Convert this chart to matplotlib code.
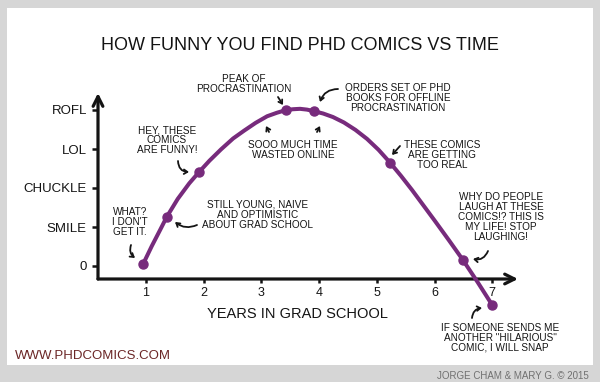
import matplotlib
matplotlib.use("Agg")
import matplotlib.pyplot as plt
from matplotlib.patches import Rectangle, FancyArrowPatch

# ---------------- data ----------------
title = "HOW FUNNY YOU FIND PHD COMICS VS TIME"
x_label = "YEARS IN GRAD SCHOOL"
x_ticks = [1, 2, 3, 4, 5, 6, 7]
y_ticks = [0, 1, 2, 3, 4]
y_tick_labels = ["0", "SMILE", "CHUCKLE", "LOL", "ROFL"]

curve_years = [0.95, 1.10, 1.25, 1.36, 1.55, 1.75, 1.92, 2.10, 2.30, 2.51, 2.70,
               2.90, 3.10, 3.27, 3.43, 3.55, 3.67, 3.79, 3.91, 4.07, 4.24, 4.43,
               4.63, 4.83, 5.03, 5.23, 5.42, 5.61, 5.80, 6.00, 6.25, 6.49, 6.75, 7.00]
curve_funny = [0.05, 0.51, 0.94, 1.26, 1.72, 2.12, 2.41, 2.70, 2.99, 3.27, 3.47,
               3.67, 3.84, 3.93, 4.00, 4.02, 4.03, 4.01, 3.97, 3.91, 3.82, 3.68,
               3.49, 3.26, 2.98, 2.65, 2.31, 1.95, 1.57, 1.17, 0.66, 0.16, -0.42, -1.00]

dot_years = [0.95, 1.36, 1.92, 3.43, 3.91, 5.23, 6.49, 7.00]
dot_funny = [0.05, 1.26, 2.41, 4.00, 3.97, 2.65, 0.16, -1.00]

notes = [
    "WHAT?\nI DON'T\nGET IT.",
    "STILL YOUNG, NAIVE\nAND OPTIMISTIC\nABOUT GRAD SCHOOL",
    "HEY, THESE\nCOMICS\nARE FUNNY!",
    "PEAK OF\nPROCRASTINATION",
    "ORDERS SET OF PHD\nBOOKS FOR OFFLINE\nPROCRASTINATION",
    "SOOO MUCH TIME\nWASTED ONLINE",
    "THESE COMICS\nARE GETTING\nTOO REAL",
    "WHY DO PEOPLE\nLAUGH AT THESE\nCOMICS!? THIS IS\nMY LIFE! STOP\nLAUGHING!",
    "IF SOMEONE SENDS ME\nANOTHER \"HILARIOUS\"\nCOMIC, I WILL SNAP",
]

# ---------------- layout ----------------
W, H = 600, 382
FONT = ["Liberation Sans Narrow", "Liberation Sans", "DejaVu Sans"]
plt.rcParams["font.family"] = FONT
INK = "#141414"
PURPLE = "#772b7c"


def P(x, y):
    """pixel (top-left origin) -> figure fraction"""
    return (x / W, 1 - y / H)


fig = plt.figure(figsize=(6, 3.82), dpi=100, facecolor="#d6d6d6")
fig.patches.append(Rectangle(P(7, 365), 586 / W, 357 / H, transform=fig.transFigure,
                             facecolor="white", edgecolor="none", zorder=-5))

# axes: y-axis at x=98px, x-axis at y=279px, arrow tips at (518, 279) and (98, 93)
x0px, x1px, y0px, y1px = 98, 518, 279, 93
ax = fig.add_axes([x0px / W, 1 - y0px / H, (x1px - x0px) / W, (y0px - y1px) / H])
ax.set_zorder(2)
ax.set_facecolor("none")
sx = 57.7   # px per year
sy = 39.0   # px per level
ax.set_xlim(1 + (x0px - 146) / sx, 1 + (x1px - 146) / sx)
ax.set_ylim((266 - y0px) / sy, (266 - y1px) / sy)
for s in ax.spines.values():
    s.set_visible(False)

ax.annotate("", xy=(1.0, 0), xytext=(0, 0), xycoords="axes fraction",
            arrowprops=dict(arrowstyle="->,head_length=0.7,head_width=0.35",
                            lw=2.3, color=INK, shrinkA=0, shrinkB=0))
ax.annotate("", xy=(0, 1.0), xytext=(0, 0), xycoords="axes fraction",
            arrowprops=dict(arrowstyle="->,head_length=0.7,head_width=0.35",
                            lw=2.3, color=INK, shrinkA=0, shrinkB=0))

ax.set_xticks(x_ticks)
ax.set_xticklabels([str(v) for v in x_ticks])
ax.set_yticks(y_ticks)
ax.set_yticklabels(y_tick_labels)
ax.tick_params(axis="x", direction="out", length=3, width=1.8, color=INK,
               labelsize=9, pad=3, labelcolor=INK)
ax.tick_params(axis="y", direction="out", length=4, width=1.8, color=INK,
               labelsize=9.5, pad=4, labelcolor=INK)

ax.plot(curve_years, curve_funny, color=PURPLE, lw=2.9, solid_capstyle="round",
        solid_joinstyle="round", clip_on=False, zorder=3)
ax.plot(dot_years, dot_funny, "o", color=PURPLE, ms=6.5, clip_on=False, zorder=4)

# ---------------- texts ----------------
fig.text(*P(300, 45), title, ha="center", va="center", fontsize=13, color=INK)
fig.text(*P(297, 314), x_label, ha="center", va="center", fontsize=10.5, color=INK)
fig.text(*P(15, 356), "WWW.PHDCOMICS.COM", ha="left", va="center",
         fontsize=9.5, color="#6b2626")
fig.text(*P(589, 376), "JORGE CHAM & MARY G. \u00a9 2015", ha="right", va="center",
         fontsize=7, color="#707070")

note_pos = [(130, 222), (258, 215), (167, 140), (244, 84), (398, 98),
            (293, 150), (442, 155), (501, 217), (500, 338)]
for txt, (px, py) in zip(notes, note_pos):
    fig.text(*P(px, py), txt, ha="center", va="center", fontsize=7.2,
             color=INK, linespacing=1.0)

arrows = [
    ((131, 245), (135, 258), 0.35),   # what
    ((197, 225), (175, 222), -0.3),   # still young
    ((178, 161), (189, 172), 0.45),   # hey
    ((278, 97), (283, 105), 0.0),     # peak
    ((338, 89), (320, 102), 0.35),    # orders
    ((269, 132), (266, 126), 0.0),    # sooo left
    ((317, 132), (320, 126), 0.0),    # sooo right
    ((400, 146), (392, 155), 0.0),    # too real
    ((488, 251), (473, 259), -0.4),   # why
    ((472, 318), (482, 308), -0.4),   # snap
]
for (sxp, syp), (txp, typ), rad in arrows:
    fig.add_artist(FancyArrowPatch(
        P(sxp, syp), P(txp, typ), transform=fig.transFigure,
        arrowstyle="->,head_length=2.5,head_width=1.6",
        connectionstyle=f"arc3,rad={rad}", lw=1.3, color=INK,
        shrinkA=0, shrinkB=0))

fig.savefig("out.png", dpi=100, facecolor=fig.get_facecolor())
